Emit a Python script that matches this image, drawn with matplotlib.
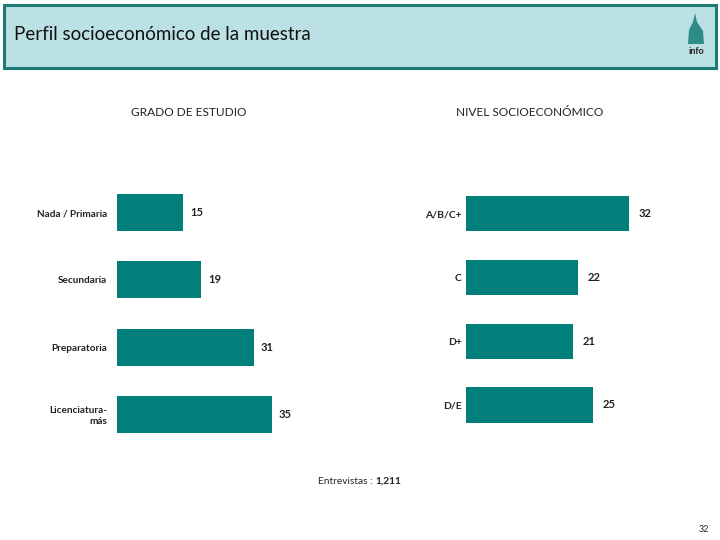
import matplotlib
matplotlib.use("Agg")
import matplotlib.pyplot as plt
from matplotlib.patches import Rectangle, Polygon

# data
estudio_cats = ["Nada / Primaria", "Secundaria", "Preparatoria", "Licenciatura-\nmás"]
estudio_vals = [15, 19, 31, 35]
nse_cats = ["A/B/C+", "C", "D+", "D/E"]
nse_vals = [32, 22, 21, 25]
entrevistas = "1,211"
page_num = "32"

W, H = 720, 540
TEAL = "#007f7b"
plt.rcParams['font.family'] = ['Lato', 'DejaVu Sans']

fig = plt.figure(figsize=(7.2, 5.4), dpi=100)


def fx(x):
    return x / W


def fy(y):
    return 1 - y / H


# header band
fig.patches.append(Rectangle((fx(4), fy(68)), fx(712), 63 / H, transform=fig.transFigure,
                             facecolor="#bce1e4", edgecolor="#1d7b75", linewidth=2.2))
fig.text(fx(14), fy(35), "Perfil socioeconómico de la muestra", fontsize=13.5,
         va="center", ha="left", color="#111111")

# little logo stand-in
fig.patches.append(Polygon([(fx(688), fy(44)), (fx(689), fy(30)), (fx(693), fy(22)),
                            (fx(695), fy(13)), (fx(697), fy(22)), (fx(703), fy(31)),
                            (fx(704), fy(44))], closed=True, transform=fig.transFigure,
                           facecolor="#2e8c86", edgecolor="none"))
fig.text(fx(696), fy(51), "info", fontsize=6.5, fontweight="bold", ha="center",
         va="center", color="#222222")


def draw_bars(left, top, bottom, px_per_unit, cats, vals, pad, lab_size, lab_off):
    ax = fig.add_axes([fx(left), fy(bottom), (px_per_unit * 40) / W, (bottom - top) / H])
    ypos = list(range(len(cats)))
    ax.barh(ypos, vals, height=0.55, color=TEAL)
    ax.set_xlim(0, 40)
    ax.set_ylim(len(cats) - 0.5, -0.5)
    ax.set_yticks(ypos)
    ax.set_yticklabels(cats, fontsize=lab_size, fontweight="bold", color="#222222")
    ax.tick_params(axis="y", length=0, pad=pad)
    ax.set_xticks([])
    for s in ax.spines.values():
        s.set_visible(False)
    for y, v in zip(ypos, vals):
        ax.annotate(str(v), (v, y), xytext=(lab_off, 0), textcoords="offset points",
                    ha="left", va="center", fontsize=8, fontweight="bold", color="#222222")
    return ax


ax1 = draw_bars(117, 179, 448, 4.42, estudio_cats, estudio_vals, 7, 7.2, 5)
ax2 = draw_bars(466, 181.6, 436.9, 5.08, nse_cats, nse_vals, 3, 7.5, 7)

fig.text(fx(189), fy(113), "GRADO DE ESTUDIO", fontsize=8.6, ha="center", va="center",
         color="#222222")
fig.text(fx(530), fy(113), "NIVEL SOCIOECONÓMICO", fontsize=8.6, ha="center", va="center",
         color="#222222")

t = fig.text(fx(318), fy(481), "Entrevistas : ", fontsize=7.3, ha="left", va="center",
             color="#222222")
fig.canvas.draw()
bb = t.get_window_extent()
fig.text(bb.x1 / fig.bbox.width, fy(481), entrevistas, fontsize=7.3, fontweight="bold",
         ha="left", va="center", color="#222222")

fig.text(fx(709), fy(529), page_num, fontsize=6.5, ha="right", va="center", color="#222222")

fig.savefig("out.png", dpi=100)
